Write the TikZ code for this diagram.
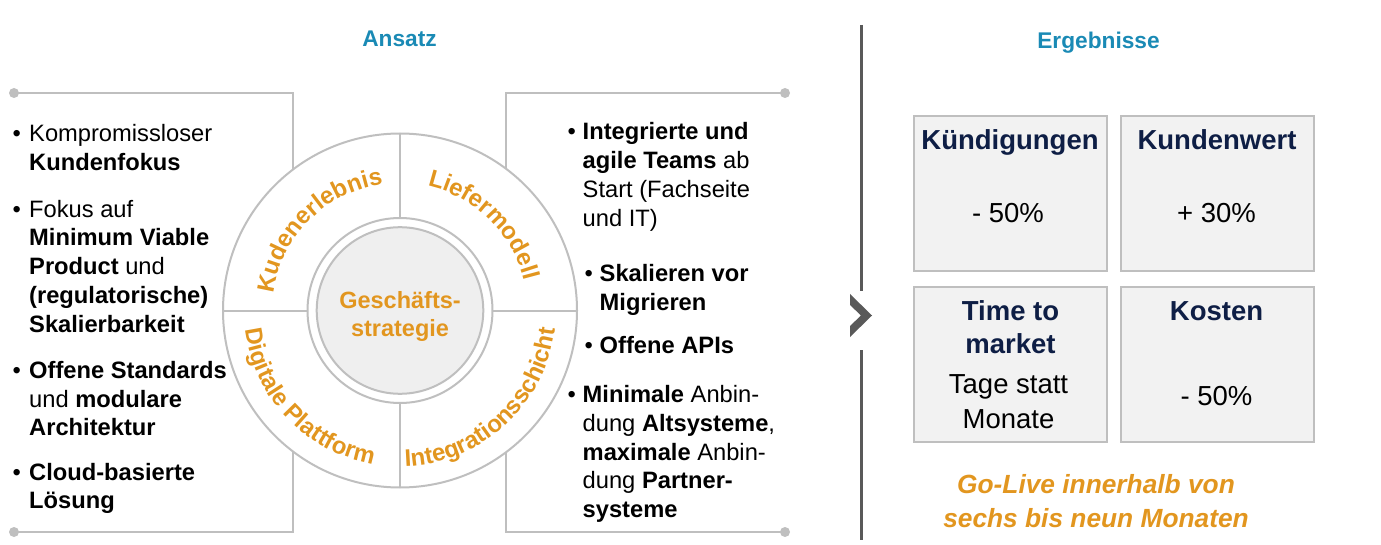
\documentclass[tikz,border=0pt]{standalone}
\usepackage{fontspec}
\setmainfont{Liberation Sans}
\usetikzlibrary{decorations.text}

\definecolor{titleblue}{HTML}{1A8AB5}
\definecolor{accent}{HTML}{E2961F}
\definecolor{navy}{HTML}{0E1E45}
\definecolor{linegray}{HTML}{BFBFBF}
\definecolor{boxgray}{HTML}{F2F2F2}
\definecolor{discgray}{HTML}{EFEFEF}
\definecolor{sepgray}{HTML}{595959}

\newcommand{\lbul}{\makebox[16.5pt][l]{\textbullet}}
\newcommand{\rbul}{\makebox[15pt][l]{\textbullet}}
\newcommand{\llines}[1]{\begin{tabular}[t]{@{}l@{}}#1\end{tabular}}
\newcommand{\clines}[1]{\begin{tabular}[t]{@{}c@{}}#1\end{tabular}}
\newcommand{\arcfont}{\fontsize{24}{28}\selectfont\bfseries\color{accent}}

\begin{document}
\begin{tikzpicture}[x=1pt, y=-1pt,
		bodytext/.style={anchor=base west, inner sep=0pt, font=\fontsize{23.7}{28.7}\selectfont},
		headtext/.style={anchor=base, inner sep=0pt, text=titleblue, font=\fontsize{22.7}{27}\selectfont\bfseries},
		frame/.style={draw=linegray, line width=2pt},
		enddot/.style={circle, fill=linegray, inner sep=0pt, minimum size=10pt},
		disc/.style={circle, draw=linegray, line width=2pt, fill=discgray, minimum size=166.6pt, inner sep=0pt},
		midtext/.style={anchor=base, inner sep=0pt, text=accent, font=\fontsize{23.5}{28.4}\selectfont\bfseries},
		resbox/.style={draw=linegray, line width=2pt, fill=boxgray, anchor=north west, minimum width=193pt, minimum height=155pt, inner sep=0pt},
		restitle/.style={anchor=base, inner sep=0pt, text=navy, font=\fontsize{27.5}{33.5}\selectfont\bfseries},
		resvalue/.style={anchor=base, inner sep=0pt, font=\fontsize{27.5}{35}\selectfont},
		golive/.style={anchor=base, inner sep=0pt, text=accent, font=\fontsize{26.3}{34}\selectfont\bfseries\itshape}]
	\useasboundingbox (0,0) rectangle (1381,545);

	% headings
	\node[headtext] (ansatz) at (399.5,46.6) {Ansatz};
	\node[headtext] (ergeb) at (1098.5,48.3) {Ergebnisse};

	% frames with end dots
	\draw[frame] (14,93) -- (293,93) -- (293,532) -- (14,532);
	\draw[frame] (785,93) -- (506,93) -- (506,532) -- (785,532);
	\node[enddot] (dotlt) at (14,93) {};
	\node[enddot] (dotlb) at (14,532) {};
	\node[enddot] (dotrt) at (785,93) {};
	\node[enddot] (dotrb) at (785,532) {};

	% wheel
	\begin{scope}[shift={(400,310.5)}, y=1pt]
		\draw[frame, fill=white] (0,0) circle[radius=177];
		\draw[frame] (0,0) circle[radius=92.5];
		\draw[frame] (0,92.5) -- (0,177);
		\draw[frame] (0,-92.5) -- (0,-177);
		\draw[frame] (-92.5,0) -- (-177,0);
		\draw[frame] (92.5,0) -- (177,0);
		\node[disc] (strat) at (0,0) {};
		\node[midtext] (stratlbl) at (0,2.2) {\clines{Geschäfts-\\strategie}};
		\path[decorate, decoration={text along path, text align=center, text={|\arcfont|Kudenerlebnis}}]
			(190:127.5) arc[start angle=190, end angle=80, radius=127.5];
		\path[decorate, decoration={text along path, text align=center, text={|\arcfont|Liefermodell}}]
			(100.5:127.5) arc[start angle=100.5, end angle=-9.5, radius=127.5];
		\path[decorate, decoration={text along path, text align=center, text={|\arcfont|Digitale Plattform}}]
			(168.5:156) arc[start angle=168.5, end angle=278.5, radius=156];
		\path[decorate, decoration={text along path, text align=center, text={|\arcfont|Integrationsschicht}}]
			(257.5:156) arc[start angle=257.5, end angle=367.5, radius=156];
	\end{scope}

	% left column
	\node[bodytext] (lft1) at (12.5,141.7) {\lbul\llines{Kompromissloser\\\textbf{Kundenfokus}}};
	\node[bodytext] (lft2) at (12.5,217.3) {\lbul\llines{Fokus auf\\\textbf{Minimum Viable}\\\textbf{Product} und\\\textbf{(regulatorische)}\\\textbf{Skalierbarkeit}}};
	\node[bodytext] (lft3) at (12.5,378.3) {\lbul\llines{\textbf{Offene Standards}\\und \textbf{modulare}\\\textbf{Architektur}}};
	\node[bodytext] (lft4) at (12.5,480) {\lbul\llines{\textbf{Cloud-basierte}\\\textbf{Lösung}}};

	% right column
	\node[bodytext] (rgt1) at (567.5,140) {\rbul\llines{\textbf{Integrierte und}\\\textbf{agile Teams} ab\\Start (Fachseite\\und IT)}};
	\node[bodytext] (rgt2) at (584.5,281.7) {\rbul\llines{\textbf{Skalieren vor}\\\textbf{Migrieren}}};
	\node[bodytext] (rgt3) at (584.5,353.3) {\rbul\llines{\textbf{Offene APIs}}};
	\node[bodytext] (rgt4) at (567.5,402.7) {\rbul\llines{\textbf{Minimale} Anbin-\\dung \textbf{Altsysteme},\\\textbf{maximale} Anbin-\\dung \textbf{Partner-}\\\textbf{systeme}}};

	% separator and chevron
	\draw[sepgray, line width=2.5pt] (861.5,25) -- (861.5,290.7);
	\draw[sepgray, line width=2.5pt] (861.5,350) -- (861.5,540);
	\fill[sepgray] (850,294) -- (872,315.5) -- (850,337) -- (850,326) -- (861,315.5) -- (850,305) -- cycle;

	% result boxes
	\node[resbox] (kuend) at (912.7,115) {};
	\node[resbox] (kwert) at (1120,115) {};
	\node[resbox] (ttm) at (912.7,286) {};
	\node[resbox] (kost) at (1120,286) {};
	\node[restitle] (kuendt) at (1010,150) {Kündigungen};
	\node[resvalue] (kuendv) at (1008,222.7) {- 50\%};
	\node[restitle] (kwertt) at (1217,150) {Kundenwert};
	\node[resvalue] (kwertv) at (1216.5,222.7) {+ 30\%};
	\node[restitle] (ttmt) at (1010.5,320) {\clines{Time to\\market}};
	\node[resvalue] (ttmv) at (1008.5,393.3) {\clines{Tage statt\\Monate}};
	\node[restitle] (kostt) at (1216.5,320) {Kosten};
	\node[resvalue] (kostv) at (1216.5,405) {- 50\%};

	\node[golive] (golv) at (1096,493.3) {\clines{Go-Live innerhalb von\\sechs bis neun Monaten}};
\end{tikzpicture}
\end{document}
